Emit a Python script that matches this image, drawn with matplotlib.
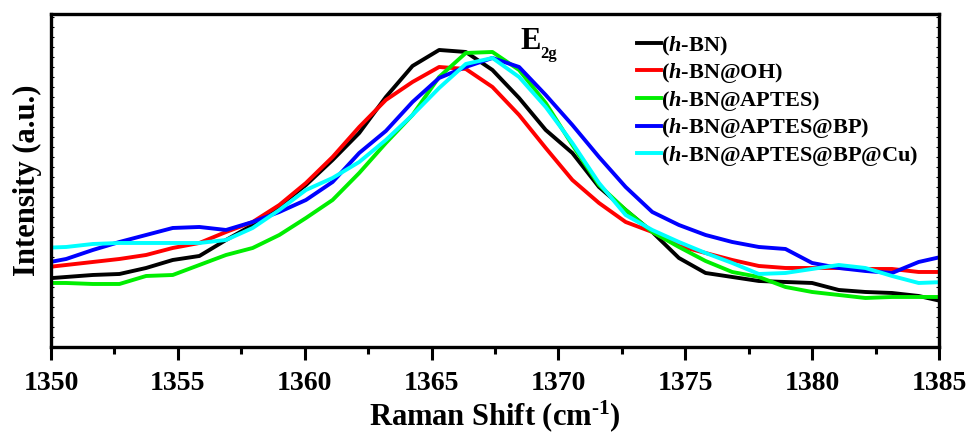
import numpy as np
import matplotlib as mpl
mpl.use('Agg')
import matplotlib.pyplot as plt
from matplotlib.ticker import MultipleLocator, NullFormatter

plt.rcParams['font.family'] = ['Liberation Serif', 'DejaVu Serif']
plt.rcParams['font.weight'] = 'bold'
plt.rcParams['mathtext.fontset'] = 'custom'
plt.rcParams['mathtext.rm'] = 'Liberation Serif:bold'
plt.rcParams['mathtext.bf'] = 'Liberation Serif:bold'
plt.rcParams['mathtext.it'] = 'Liberation Serif:italic:bold'

# Raman shift (cm-1), sampled every ~1.05 cm-1
shift = [1349.55, 1350.60, 1351.65, 1352.70, 1353.75, 1354.80, 1355.85, 1356.90,
         1357.95, 1359.00, 1360.05, 1361.10, 1362.15, 1363.20, 1364.25, 1365.30,
         1366.35, 1367.40, 1368.45, 1369.50, 1370.55, 1371.60, 1372.65, 1373.70,
         1374.75, 1375.80, 1376.85, 1377.90, 1378.95, 1380.00, 1381.05, 1382.10,
         1383.15, 1384.20, 1385.25]

# intensities (a.u.)
hbn = [68, 70, 72, 73, 79, 87, 91, 107, 122, 141, 162, 187, 214, 250, 281, 297,
       295, 277, 249, 217, 194, 160, 137, 115, 89, 74, 70, 66, 65, 64, 57, 55,
       54, 51, 45]
hbn_oh = [79, 82, 85, 88, 92, 99, 104, 115, 125, 142, 164, 190, 220, 247, 265, 280,
          278, 260, 232, 199, 167, 144, 125, 115, 101, 94, 87, 81, 79, 79, 79, 78,
          78, 75, 75]
hbn_aptes = [64, 64, 63, 63, 71, 72, 82, 92, 99, 112, 129, 147, 174, 204, 232, 270,
             294, 295, 277, 244, 202, 162, 137, 115, 100, 86, 75, 70, 60, 55, 52, 49,
             50, 50, 50]
hbn_aptes_bp = [83, 88, 97, 105, 112, 119, 120, 117, 125, 135, 147, 165, 194, 216, 245, 269,
                280, 289, 280, 252, 222, 190, 160, 135, 122, 112, 105, 100, 98, 84, 79, 76,
                74, 85, 91]
hbn_aptes_bp_cu = [99, 100, 103, 104, 104, 104, 104, 107, 119, 137, 157, 169, 185, 207, 232, 259,
                   283, 289, 270, 240, 204, 164, 132, 117, 105, 94, 84, 73, 74, 78, 82, 79,
                   71, 64, 65]

labels = ['($h$-BN)', '($h$-BN@OH)', '($h$-BN@APTES)', '($h$-BN@APTES@BP)',
          '($h$-BN@APTES@BP@Cu)']
colors = ['#000000', '#ff0000', '#00ee00', '#0000ff', '#00ffff']

fig = plt.figure(figsize=(9.69, 4.34), dpi=100)
ax = fig.add_axes([0.0526, 0.2005, 0.9164, 0.7673])

for y, lab, c in zip([hbn, hbn_oh, hbn_aptes, hbn_aptes_bp, hbn_aptes_bp_cu], labels, colors):
    ax.plot(shift, y, color=c, lw=2.8, label=lab)

ax.set_xlim(1350, 1385)
ax.set_ylim(0, 333)
ax.xaxis.set_major_locator(MultipleLocator(5))
ax.xaxis.set_minor_locator(MultipleLocator(2.5))
ax.yaxis.set_major_locator(MultipleLocator(10))
ax.yaxis.set_major_formatter(NullFormatter())
ax.tick_params(axis='x', which='major', direction='out', length=9, width=2.2, labelsize=20, pad=8)
ax.tick_params(axis='x', which='minor', direction='out', length=5, width=2.2)
ax.tick_params(axis='y', which='major', direction='in', length=2, width=0.8, left=True, right=True)
for s in ax.spines.values():
    s.set_linewidth(2.4)

ax.set_xlabel(r'Raman Shift (cm$^{\text{-1}}$)', fontsize=22, fontweight='bold', labelpad=2)
ax.set_ylabel('Intensity (a.u.)', fontsize=22, fontweight='bold', labelpad=3)

# E2g peak label
ax.text(1368.5, 298, 'E', fontsize=22, ha='left', va='baseline')
ax.text(1369.27, 289, '2g', fontsize=12, ha='left', va='baseline')

leg = ax.legend(loc='upper right', bbox_to_anchor=(0.992, 0.978), frameon=False,
                fontsize=16, handlelength=1.1, handletextpad=0.0, labelspacing=0.16,
                borderaxespad=0.2)

plt.savefig('out.png', dpi=100)
